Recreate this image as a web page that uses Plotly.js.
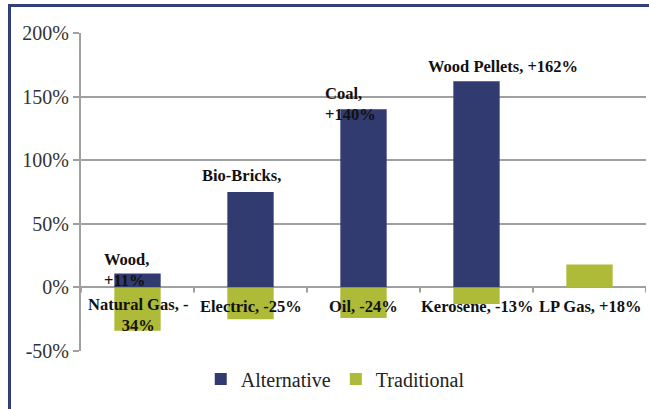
<!DOCTYPE html>
<html>
<head>
<meta charset="utf-8">
<script src="https://cdn.plot.ly/plotly-3.0.1.min.js"></script>
<style>
  html, body { margin: 0; padding: 0; background: #fff; }
  #wrap { position: relative; width: 649px; height: 409px; }
  #chart { width: 649px; height: 409px; }
  #frame { position: absolute; left: 8px; top: 4px; right: 0; bottom: 0;
           border-left: 3px solid #333F7C; border-top: 3px solid #333F7C;
           pointer-events: none; z-index: 10; }
</style>
</head>
<body>
<div id="wrap">
  <div id="chart"></div>
  <div id="frame"></div>
</div>
<script>
// ---- data ----
const categories = ["Natural Gas", "Electric", "Oil", "Kerosene", "LP Gas"];
const altValues = [11, 75, 140, 162, null];
const tradValues = [-34, -25, -24, -13, 18];
const altLabels = ["Wood,<br>+11%", "Bio-Bricks,", "Coal,<br>+140%", "Wood Pellets, +162%", ""];
const tradLabels = ["Natural Gas, -<br>34%", "Electric, -25%", "Oil, -24%", "Kerosene, -13%", "LP Gas, +18%"];
const yTickVals = [-50, 0, 50, 100, 150, 200];
const yTickText = ["-50%", "0%", "50%", "100%", "150%", "200%"];

// ---- styles ----
const navy = "#323B6F";
const olive = "#AEBB38";
const grid = "#A0A0A0";
const serif = "Liberation Serif";
const altShift = [[-11, 3], [-9, 17], [-13, 5], [26, 15], [0, 0]];
const tradShift = [[0, -28], [0, -19], [0, -19], [0, -19], [0, -19]];

const traces = [
  { type: "bar", name: "Alternative", x: categories, y: altValues,
    marker: { color: navy }, width: 0.41, hoverinfo: "skip" },
  { type: "bar", name: "Traditional", x: categories, y: tradValues,
    marker: { color: olive }, width: 0.41, hoverinfo: "skip" }
];

const annotations = [];
categories.forEach((c, i) => {
  if (altLabels[i]) {
    annotations.push({ x: c, y: altValues[i], xref: "x", yref: "y",
      text: "<b>" + altLabels[i] + "</b>", showarrow: false, align: "left",
      xanchor: "center", yanchor: "middle",
      xshift: altShift[i][0], yshift: altShift[i][1],
      font: { family: serif, size: 16.5, color: "#111" } });
  }
  annotations.push({ x: c, y: 0, xref: "x", yref: "y",
    text: "<b>" + tradLabels[i] + "</b>", showarrow: false, align: "center",
    xanchor: "center", yanchor: "middle",
    xshift: tradShift[i][0], yshift: tradShift[i][1],
    font: { family: serif, size: 16.5, color: "#111" } });
});

const shapes = [];
for (let i = 0; i <= categories.length; i++) {
  shapes.push({ type: "line", xref: "x", yref: "y", ysizemode: "pixel", yanchor: 0,
    x0: i - 0.5, x1: i - 0.5, y0: 0, y1: -5,
    line: { color: grid, width: 2 } });
}

const layout = {
  width: 649, height: 409,
  margin: { l: 81, r: 3, t: 33, b: 58 },
  paper_bgcolor: "#fff", plot_bgcolor: "#fff",
  barmode: "overlay",
  showlegend: true,
  legend: { orientation: "h", x: 0.45, xanchor: "center", y: -0.088, yanchor: "middle",
    font: { family: serif, size: 20, color: "#222" }, traceorder: "normal" },
  xaxis: { type: "category", range: [-0.5, 4.5], showticklabels: false, ticks: "",
    showgrid: false, zeroline: false, showline: false, fixedrange: true },
  yaxis: { range: [-50, 200], tickvals: yTickVals, ticktext: yTickText,
    showgrid: true, gridcolor: grid, gridwidth: 2,
    zeroline: true, zerolinecolor: grid, zerolinewidth: 2,
    showline: true, linecolor: grid, linewidth: 2,
    ticks: "outside", ticklen: 6, tickcolor: grid, tickwidth: 2,
    tickfont: { family: serif, size: 20, color: "#333" }, fixedrange: true },
  annotations: annotations,
  shapes: shapes
};

Plotly.newPlot("chart", traces, layout, { displayModeBar: false, staticPlot: true });
</script>
</body>
</html>
